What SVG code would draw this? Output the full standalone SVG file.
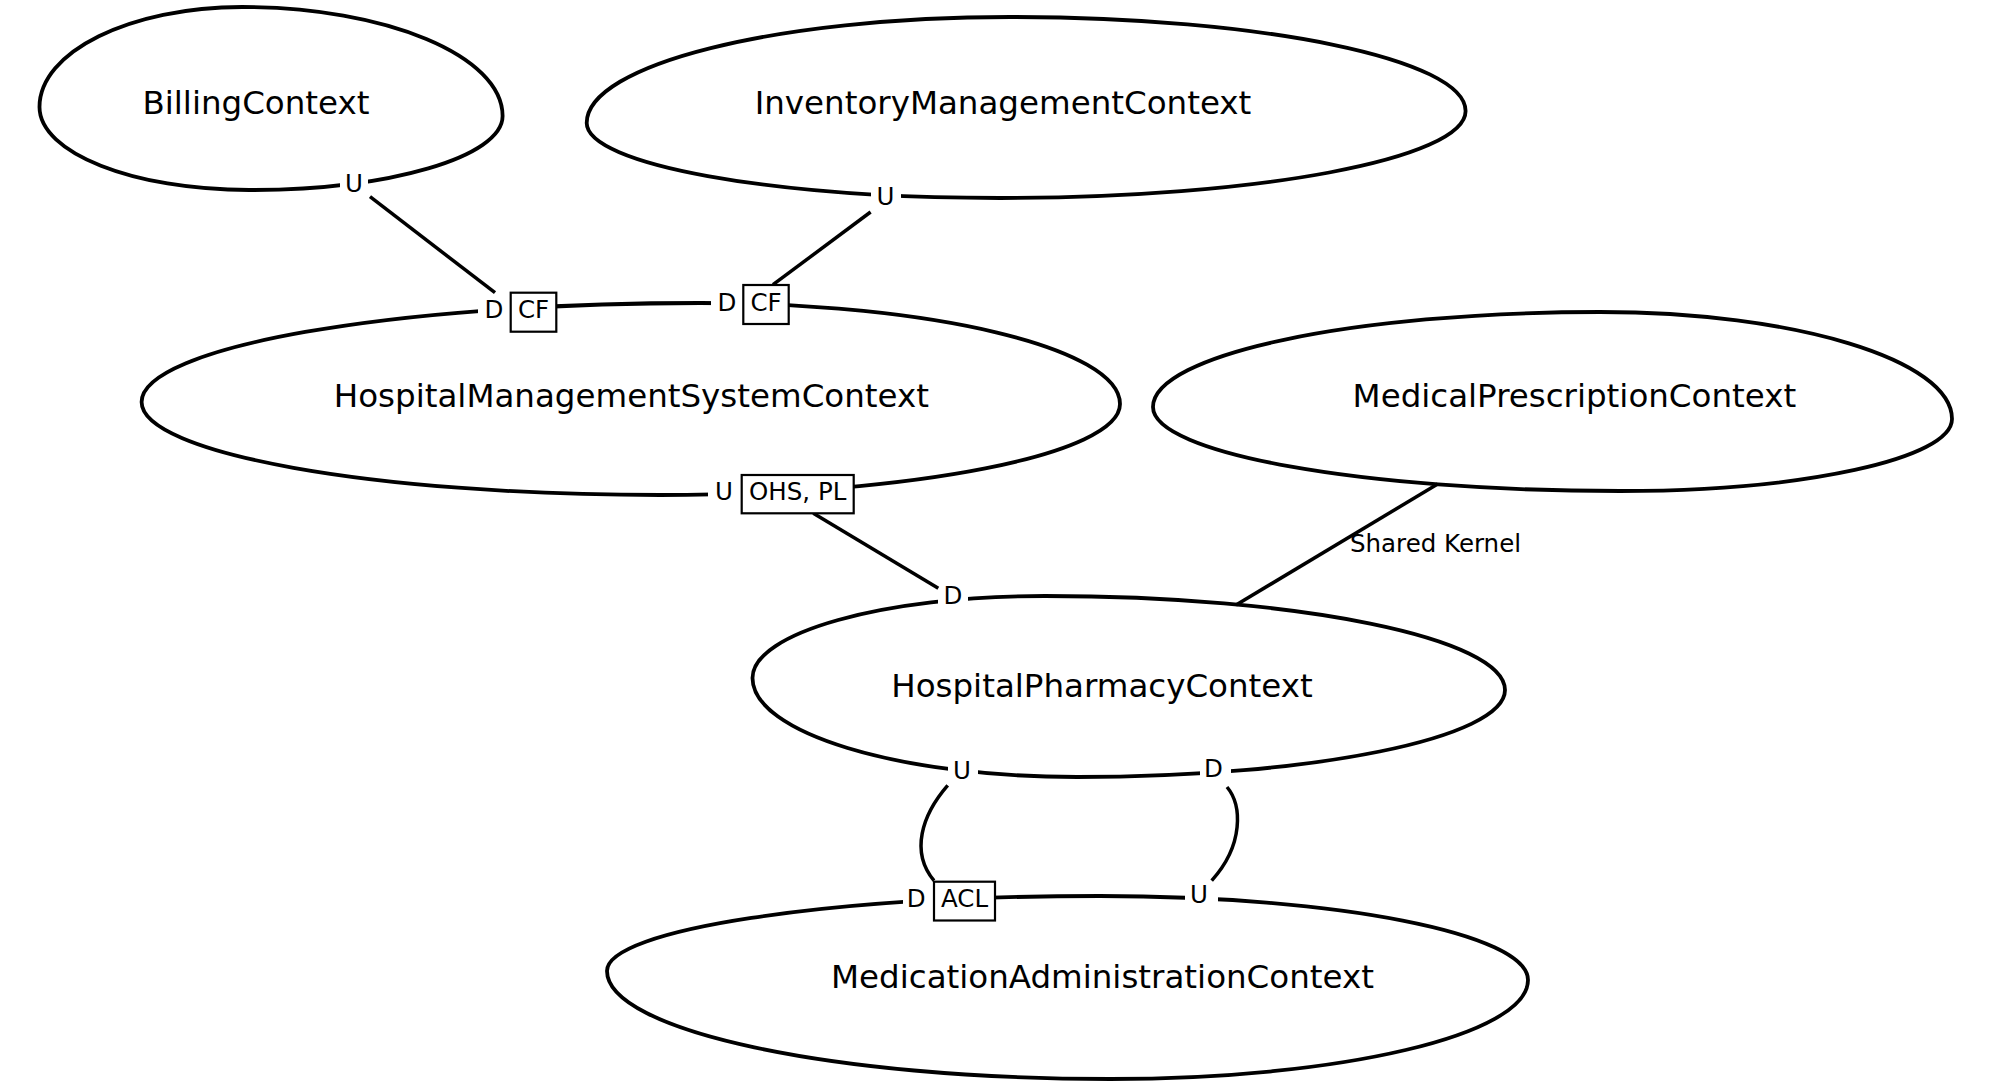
<svg xmlns="http://www.w3.org/2000/svg" width="2000" height="1086" viewBox="0 0 2000 1086">
<style>
  .ctx { fill: none; stroke: #000; stroke-width: 3.8; }
  .name { font-family: "DejaVu Sans", "Liberation Sans", sans-serif; font-size: 32.5px; text-anchor: middle; fill: #000; }
  .lbl { font-family: "DejaVu Sans", "Liberation Sans", sans-serif; font-size: 24.5px; fill: #000; }
  .mid { text-anchor: middle; }
  .bg { fill: #fff; stroke: none; }
  .box { fill: #fff; stroke: #000; stroke-width: 2.2; }
  .conn { fill: none; stroke: #000; stroke-width: 3.5; }
</style>
<rect width="2000" height="1086" fill="#fff"/>

<g id="BillingContext">
  <path class="ctx" d="M39.5 107 C39.5 51.8 130.2 7 242 7 C385.9 7 502.6 55.8 502.6 116 C502.6 156.9 389.1 190 249 190 C133.3 190 39.5 152.8 39.5 107 Z"/>
  <text class="name" x="256" y="113.6">BillingContext</text>
</g>

<g id="InventoryManagementContext">
  <path class="ctx" d="M586.7 123 C586.7 64.5 776.2 17 1010 17 C1261.6 17 1465.6 59.1 1465.6 111 C1465.6 159 1257.2 198 1000 198 C771.7 198 586.7 164.4 586.7 123 Z"/>
  <text class="name" x="1003" y="113.6">InventoryManagementContext</text>
</g>

<g id="HospitalManagementSystemContext">
  <path class="ctx" d="M141.6 402 C141.6 347.3 391.6 303 700 303 C932 303 1120 348.2 1120 404 C1120 454.3 914.1 495 660 495 C373.7 495 141.6 453.4 141.6 402 Z"/>
  <text class="name" x="631.4" y="407">HospitalManagementSystemContext</text>
</g>

<g id="MedicalPrescriptionContext">
  <path class="ctx" d="M1153 407 C1153 354.5 1353.1 312 1600 312 C1794.4 312 1952 359.9 1952 419 C1952 458.8 1803.4 491 1620 491 C1362.1 491 1153 453.4 1153 407 Z"/>
  <text class="name" x="1574.4" y="407">MedicalPrescriptionContext</text>
</g>

<g id="HospitalPharmacyContext">
  <path class="ctx" d="M752.5 678 C752.5 632.7 883.5 596 1045 596 C1299.1 596 1505 638.1 1505 690 C1505 738 1313.4 777 1077 777 C897.8 777 752.5 732.7 752.5 678 Z"/>
  <text class="name" x="1102" y="697">HospitalPharmacyContext</text>
</g>

<g id="MedicationAdministrationContext">
  <path class="ctx" d="M607 971 C607 929.6 827.7 896 1100 896 C1336.4 896 1528 933.6 1528 980 C1528 1034.7 1340.9 1079 1110 1079 C832.2 1079 607 1030.6 607 971 Z"/>
  <text class="name" x="1102.5" y="988">MedicationAdministrationContext</text>
</g>

<g id="label-backgrounds">
  <rect class="bg" x="340" y="170" width="28" height="26"/>
  <rect class="bg" x="871" y="184" width="30" height="26"/>
  <rect class="bg" x="478" y="296" width="33" height="30"/>
  <rect class="bg" x="711" y="289" width="33" height="30"/>
  <rect class="bg" x="708" y="479" width="34" height="30"/>
  <rect class="bg" x="938" y="583" width="30" height="28"/>
  <rect class="bg" x="948" y="757" width="30" height="28"/>
  <rect class="bg" x="1200" y="756" width="31" height="28"/>
  <rect class="bg" x="903" y="886" width="31" height="30"/>
  <rect class="bg" x="1185" y="883" width="33" height="28"/>
</g>

<g id="connectors">
  <line class="conn" x1="370" y1="196.7" x2="495" y2="292.7"/>
  <line class="conn" x1="870.6" y1="212" x2="773" y2="284.7"/>
  <line class="conn" x1="813.3" y1="513.3" x2="938.3" y2="588.3"/>
  <line class="conn" x1="1437.7" y1="484" x2="1236" y2="605"/>
  <path class="conn" stroke-width="3.2" d="M947.7 785.4 C922 815 910 852 934 880.6"/>
  <path class="conn" stroke-width="3.2" d="M1227 787 C1242 805 1244 845 1211.7 880.6"/>
  <text class="lbl" x="1350" y="551.7">Shared Kernel</text>
</g>

<g id="labels">
  <text class="lbl mid" x="354" y="192">U</text>
  <text class="lbl mid" x="885.5" y="205">U</text>

  <text class="lbl mid" x="494" y="318.3">D</text>
  <rect class="box" x="510.7" y="292.7" width="45.6" height="39"/>
  <text class="lbl mid" x="533.5" y="318.3">CF</text>

  <text class="lbl mid" x="727" y="311">D</text>
  <rect class="box" x="743.3" y="285" width="45.4" height="39"/>
  <text class="lbl mid" x="766" y="311">CF</text>

  <text class="lbl mid" x="724" y="500">U</text>
  <rect class="box" x="741.7" y="475" width="112" height="38.3"/>
  <text class="lbl mid" x="797.7" y="500">OHS, PL</text>

  <text class="lbl mid" x="953" y="604">D</text>
  <text class="lbl mid" x="962" y="779">U</text>
  <text class="lbl mid" x="1213.5" y="777.4">D</text>

  <text class="lbl mid" x="916.3" y="906.6">D</text>
  <rect class="box" x="934" y="881.7" width="61" height="38.8"/>
  <text class="lbl mid" x="964.5" y="906.6">ACL</text>

  <text class="lbl mid" x="1199" y="903">U</text>
</g>
</svg>
